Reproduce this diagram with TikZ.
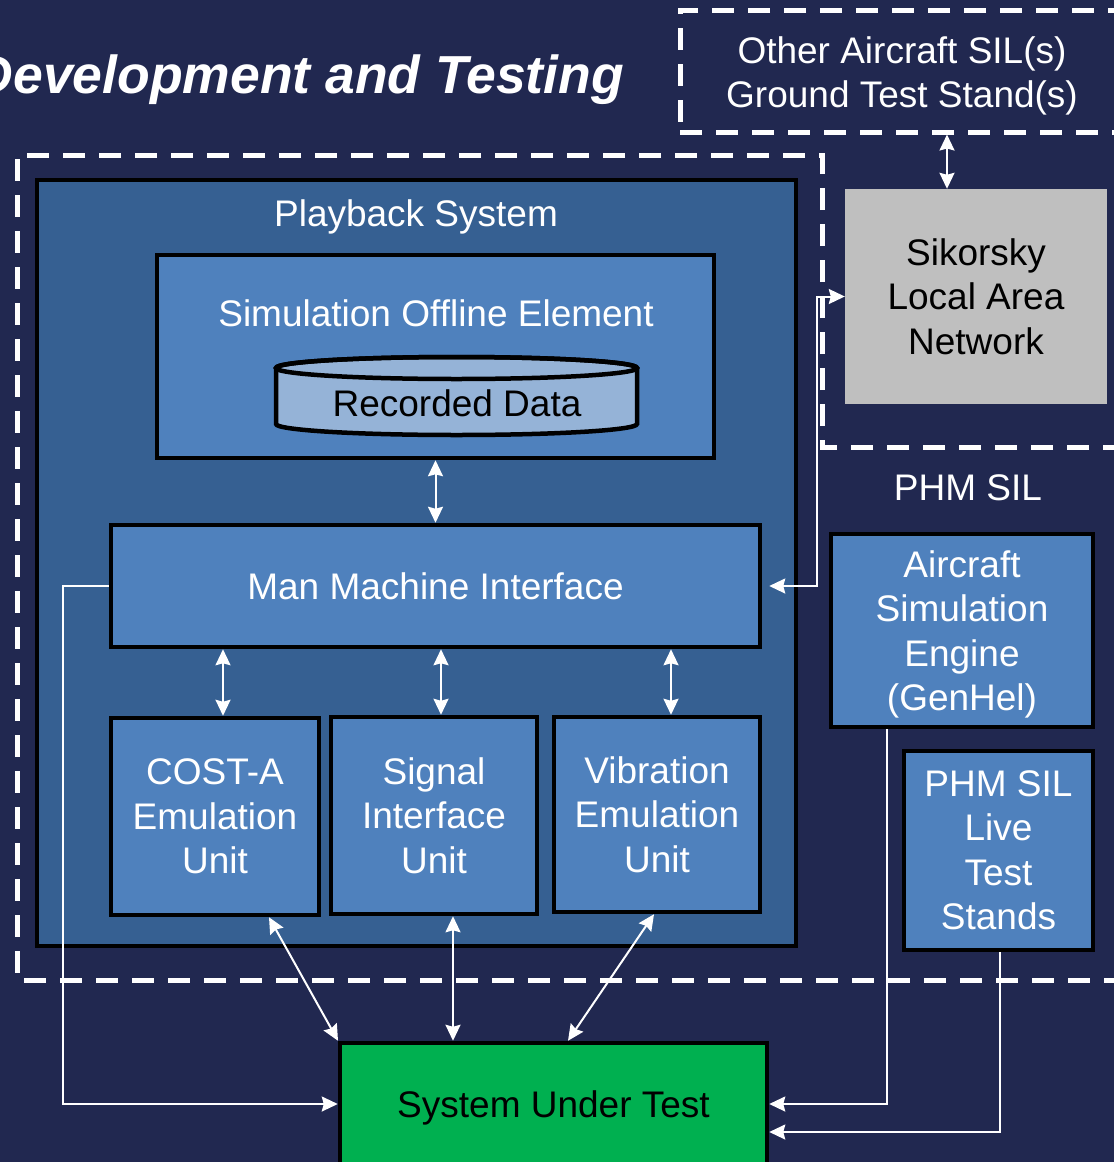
\documentclass[tikz,border=0pt]{standalone}
\usepackage{fontspec}
\setmainfont{Liberation Sans}
\usetikzlibrary{arrows.meta}
\definecolor{navybg}{RGB}{33,40,80}
\definecolor{pbblue}{RGB}{54,96,146}
\definecolor{boxblue}{RGB}{79,129,189}
\definecolor{cylblue}{RGB}{149,179,215}
\definecolor{langray}{RGB}{191,191,191}
\definecolor{sutgreen}{RGB}{0,176,80}
\begin{document}
\begin{tikzpicture}[x=1pt,y=-1pt,
  txt/.style={text=white, align=center, inner sep=0pt, font=\fontsize{37}{44.5}\selectfont},
  box/.style={draw=black, line width=4.5pt, fill=boxblue, text=white, align=center, inner sep=0pt, font=\fontsize{37}{44.5}\selectfont},
  dashbox/.style={draw=white, line width=5pt, dash pattern=on 22pt off 14pt},
  conn/.style={draw=white, line width=2pt},
  arr/.style={conn, -{Stealth[length=16pt,width=15pt,inset=2pt]}},
  biarr/.style={conn, {Stealth[length=16pt,width=15pt,inset=2pt]}-{Stealth[length=16pt,width=15pt,inset=2pt]}}]
\fill[navybg] (0,0) rectangle (1114,1162);
\useasboundingbox (0,0) rectangle (1114,1162);
\clip (0,0) rectangle (1114,1162);

% title
\node[anchor=base east, inner sep=0pt, text=white, font=\fontsize{53.5}{60}\selectfont\bfseries\itshape] (title) at (624,93) {Development and Testing};

% other aircraft dashed box
\node[dashbox, minimum width=470pt, minimum height=122pt, inner sep=0pt] (other) at (915,71) {};
\node[txt, text depth=0pt] (othertxt) at (902,72) {Other Aircraft SIL(s)\\Ground Test Stand(s)};

% big dashed outline
\draw[dashbox] (1125,447) -- (822,447) -- (822,155) -- (17,155) -- (17,980) -- (1125,980);

% playback system
\node[draw=black, line width=4.5pt, fill=pbblue, minimum width=759pt, minimum height=766pt, inner sep=0pt] (pb) at (416.5,563) {};
\node[txt, text depth=0pt] (pbtxt) at (416,213) {Playback System};

% simulation offline element
\node[box, minimum width=557pt, minimum height=203pt] (soe) at (435.5,356.5) {};
\node[txt] (soetxt) at (436,313) {Simulation Offline Element};

% recorded data cylinder
\filldraw[fill=cylblue, draw=black, line width=4.5pt] (276,368) -- (276,424)
  arc[start angle=180, end angle=360, x radius=180.5pt, y radius=11pt]
  -- (637,368) arc[start angle=0, end angle=180, x radius=180.5pt, y radius=11pt] -- cycle;
\draw[draw=black, line width=4.5pt] (456.5,368) ellipse[x radius=180.5pt, y radius=11pt];
\node[inner sep=0pt, text=black, font=\fontsize{37}{44.5}\selectfont] (rec) at (457,403) {Recorded Data};

% MMI and units
\node[box, minimum width=649pt, minimum height=122pt] (mmi) at (435.5,586) {Man Machine Interface};
\node[box, minimum width=208pt, minimum height=197pt] (cost) at (215,816.5) {COST-A\\Emulation\\Unit};
\node[box, minimum width=206pt, minimum height=197pt] (siu) at (434,815.5) {Signal\\Interface\\Unit};
\node[box, minimum width=206pt, minimum height=195pt] (veu) at (657,814.5) {Vibration\\Emulation\\Unit};

% Sikorsky LAN
\node[fill=langray, text=black, align=center, inner sep=0pt, minimum width=262pt, minimum height=215pt, font=\fontsize{37}{44.5}\selectfont] (sik) at (976,296.5) {Sikorsky\\Local Area\\Network};

% PHM SIL
\node[txt] (phm) at (968,488) {PHM SIL};
\node[box, text depth=0pt, minimum width=262pt, minimum height=193pt] (ase) at (962,630.5) {Aircraft\\Simulation\\Engine\\(GenHel)};
\node[box, minimum width=189pt, minimum height=199pt] (live) at (998.5,850.5) {PHM SIL\\Live\\Test\\Stands};

% system under test
\node[draw=black, line width=4.5pt, fill=sutgreen, text=black, text depth=0pt, inner sep=0pt, minimum width=427pt, minimum height=122pt, font=\fontsize{37}{44.5}\selectfont] (sut) at (553.5,1104) {System Under Test};

% connectors
\draw[biarr] (other.south -| 947,0) -- (sik.north -| 947,0);
\draw[biarr] (soe.south) -- (mmi.north);
\draw[biarr] (mmi.south -| 223,0) -- (cost.north -| 223,0);
\draw[biarr] (mmi.south -| 441,0) -- (siu.north -| 441,0);
\draw[biarr] (mmi.south -| 671,0) -- (veu.north -| 671,0);
\draw[biarr] ([xshift=7pt]mmi.east) -- (mmi.east -| 817,0) |- (sik.west);
\draw[biarr] (cost.south -| 269,0) -- (sut.north -| 338,0);
\draw[biarr] (siu.south -| 453,0) -- (sut.north -| 453,0);
\draw[biarr] (veu.south -| 654,0) -- (sut.north -| 568,0);
\draw[arr] (mmi.west) -- (mmi.west -| 63,0) |- (sut.west);
\draw[arr] (ase.south -| 887,0) |- (sut.east);
\draw[arr] (live.south -| 1000,0) |- ([yshift=-28pt]sut.east);
\end{tikzpicture}
\end{document}
